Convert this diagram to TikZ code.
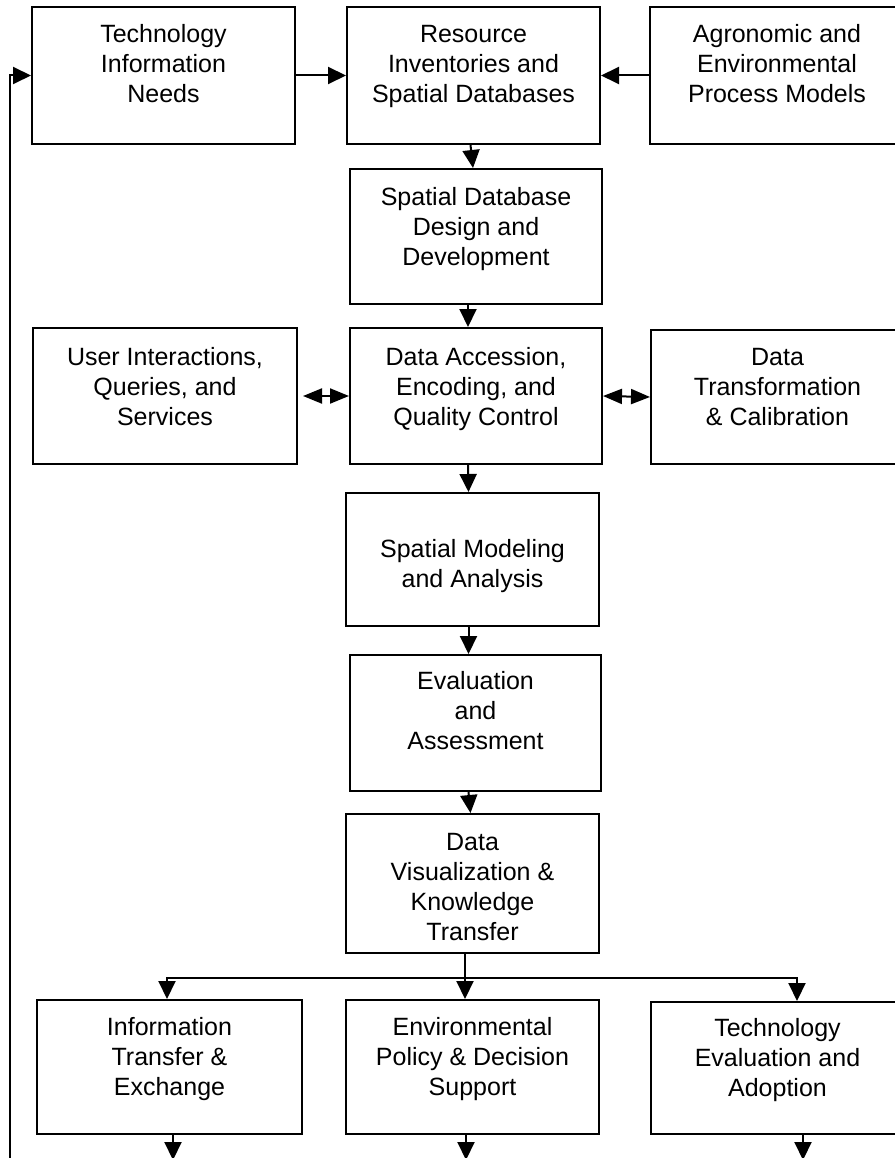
\documentclass[tikz,border=0pt]{standalone}
\usepackage{fontspec}
\setmainfont{Liberation Sans}
\usepackage{tikz}
\usetikzlibrary{arrows.meta}

\newcommand{\blocktext}[2]{\raisebox{#1}[\height][\depth]{\begin{tabular}{@{}c@{}}#2\end{tabular}}}

\begin{document}
\begin{tikzpicture}[x=1pt, y=-1pt,
  block/.style={draw, line width=2pt, inner sep=0pt, font=\fontsize{25}{30}\selectfont},
  link/.style={line width=2pt},
  arrow/.style={line width=2pt, -{Triangle[length=18pt,width=17pt]}},
  twoway/.style={line width=2pt, {Triangle[length=19pt,width=15pt]}-{Triangle[length=19pt,width=15pt]}}]
\useasboundingbox (0,0) rectangle (894,1158);

\node[block, minimum width=263, minimum height=137] (tech) at (163.5,75.5) {\blocktext{9pt}{Technology\\Information\\Needs}};
\node[block, minimum width=253, minimum height=137] (res) at (473.5,75.5) {\blocktext{9pt}{Resource\\Inventories and\\Spatial Databases}};
\node[block, minimum width=254, minimum height=137] (agro) at (777,75.5) {\blocktext{9pt}{Agronomic and\\Environmental\\Process Models}};

\node[block, minimum width=252, minimum height=135] (design) at (476,236.5) {\blocktext{6.5pt}{Spatial Database\\Design and\\Development}};

\node[block, minimum width=264, minimum height=136] (user) at (165,396) {\blocktext{7pt}{User Interactions,\\Queries, and\\Services}};
\node[block, minimum width=252, minimum height=136] (access) at (476,396) {\blocktext{7pt}{Data Accession,\\Encoding, and\\Quality Control}};
\node[block, minimum width=253, minimum height=134] (transf) at (777.5,397) {\blocktext{7.5pt}{Data\\Transformation\\\& Calibration}};

\node[block, minimum width=253, minimum height=133] (model) at (472.5,559.5) {\blocktext{-6.5pt}{Spatial Modeling\\and Analysis}};
\node[block, minimum width=251, minimum height=136] (assess) at (475.5,723) {\blocktext{9.5pt}{Evaluation\\and\\Assessment}};
\node[block, minimum width=253, minimum height=139] (vis) at (472.5,883.5) {\blocktext{-5.5pt}{Data\\Visualization \&\\Knowledge\\Transfer}};

\node[block, minimum width=265, minimum height=134] (info) at (169.5,1067) {\blocktext{7.5pt}{Information\\Transfer \&\\Exchange}};
\node[block, minimum width=253, minimum height=134] (policy) at (472.5,1067) {\blocktext{7.5pt}{Environmental\\Policy \& Decision\\Support}};
\node[block, minimum width=253, minimum height=132] (teval) at (777.5,1068) {\blocktext{8pt}{Technology\\Evaluation and\\Adoption}};

\coordinate (back) at (10,1160);
\coordinate (split) at (465,978);
\coordinate (out1) at (173,1160);
\coordinate (out2) at (466,1160);
\coordinate (out3) at (803,1160);

\draw[arrow] (back) |- (tech.west);
\draw[arrow] (tech.east) -- (res.west);
\draw[arrow] (agro.west) -- (res.east);

\draw[arrow] ([xshift=-3]res.south) -- ([xshift=-3]design.north);
\draw[arrow] ([xshift=-8]design.south) -- ([xshift=-8]access.north);
\draw[twoway] ([xshift=5]user.east) -- (access.west);
\draw[twoway] (access.east) -- (transf.west);
\draw[arrow] ([xshift=-8]access.south) -- ([xshift=-4]model.north);
\draw[arrow] ([xshift=-4]model.south) -- ([xshift=-7]assess.north);
\draw[arrow] ([xshift=-7]assess.south) -- ([xshift=-2]vis.north);

\draw[link] (vis.south -| split) -- (split);
\draw[arrow] (split) -- (policy.north -| split);
\draw[arrow] (split) -| ([xshift=-2.5]info.north);
\draw[arrow] (split) -| ([xshift=19.5]teval.north);

\draw[arrow] (info.south -| out1) -- (out1);
\draw[arrow] (policy.south -| out2) -- (out2);
\draw[arrow] (teval.south -| out3) -- (out3);
\end{tikzpicture}
\end{document}
